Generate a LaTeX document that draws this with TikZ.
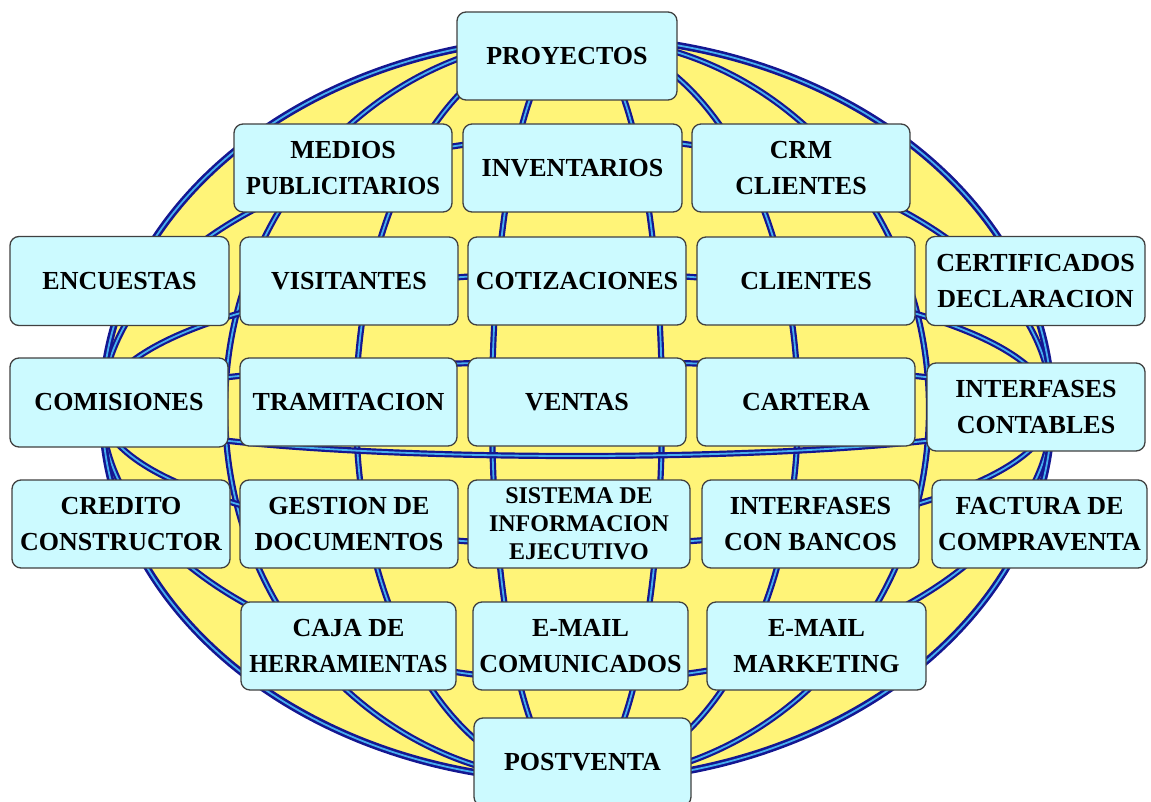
\documentclass[tikz,border=0pt]{standalone}
\usepackage{fontspec}
\setmainfont{Liberation Serif}
\definecolor{globe}{RGB}{255,244,120}
\definecolor{lineblue}{RGB}{20,22,145}
\definecolor{linecyan}{RGB}{70,175,240}
\definecolor{boxfill}{RGB}{204,250,255}
\begin{document}
\begin{tikzpicture}[x=1pt,y=-1pt,
  gl/.style={draw=lineblue, double=linecyan, line width=2.2pt, double distance=1.8pt},
  box/.style={draw=black!75, line width=1.3pt, rounded corners=9pt, fill=boxfill,
    minimum width=218pt, minimum height=88pt, inner sep=0pt, align=center,
    font=\bfseries\fontsize{26}{36}\selectfont},
  small/.style={font=\bfseries\fontsize{24}{28}\selectfont}]
\useasboundingbox (0,0) rectangle (1151,802);
\clip (0,0) rectangle (1151,802);
% globe
\fill[globe] (577,409) ellipse [x radius=475pt, y radius=372pt];
\foreach \rr in {85,221,352} \draw[gl] (577,409) ellipse [x radius=\rr pt, y radius=372pt];
\foreach \rr in {47,136,272} \draw[gl] (577,409) ellipse [x radius=475pt, y radius=\rr pt];
\draw[gl, line width=2.6pt] (577,409) ellipse [x radius=475pt, y radius=372pt];
% boxes
\node[box, minimum width=220pt] (proy) at (567,56) {PROYECTOS};
\node[box] (medios) at (343,168) {MEDIOS\\\scalebox{0.94}[1]{PUBLICITARIOS}};
\node[box, minimum width=219pt] (inv) at (572.5,168) {INVENTARIOS};
\node[box] (crm) at (801,168) {CRM\\CLIENTES};
\node[box, minimum width=219pt, minimum height=89pt] (enc) at (119.5,281) {ENCUESTAS};
\node[box] (vis) at (349,281) {VISITANTES};
\node[box] (cot) at (577,281) {COTIZACIONES};
\node[box] (cli) at (806,281) {CLIENTES};
\node[box, minimum width=219pt, minimum height=89pt] (cert) at (1035.5,281) {CERTIFICADOS\\DECLARACION};
\node[box, minimum height=89pt] (com) at (119,402.5) {COMISIONES};
\node[box, minimum width=217pt] (tram) at (348.5,402) {TRAMITACION};
\node[box] (ventas) at (577,402) {VENTAS};
\node[box] (cartera) at (806,402) {CARTERA};
\node[box] (intc) at (1036,407) {INTERFASES\\CONTABLES};
\node[box] (cred) at (121,524) {CREDITO\\CONSTRUCTOR};
\node[box] (gest) at (349,524) {GESTION DE\\DOCUMENTOS};
\node[box, small, minimum width=222pt] (sist) at (579,524) {SISTEMA DE\\INFORMACION\\EJECUTIVO};
\node[box, minimum width=217pt] (intb) at (810.5,524) {INTERFASES\\CON BANCOS};
\node[box, minimum width=215pt] (fact) at (1039.5,524) {FACTURA DE\\COMPRAVENTA};
\node[box, minimum width=215pt] (caja) at (348.5,646) {CAJA DE\\\scalebox{0.93}[1]{HERRAMIENTAS}};
\node[box, minimum width=215pt] (emc) at (580.5,646) {E-MAIL\\COMUNICADOS};
\node[box, minimum width=219pt] (emm) at (816.5,646) {E-MAIL\\MARKETING};
\node[box, minimum width=217pt] (post) at (582.5,762) {POSTVENTA};
\end{tikzpicture}
\end{document}
